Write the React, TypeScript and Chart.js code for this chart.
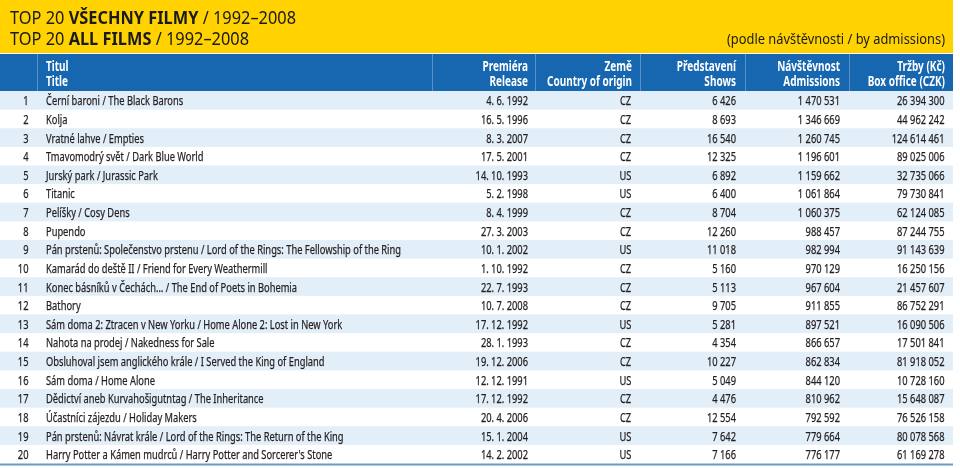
import React, { useEffect, useRef } from "react";
import { Chart, registerables } from "chart.js";

Chart.register(...registerables);

const ranks = ["1","2","3","4","5","6","7","8","9","10","11","12","13","14","15","16","17","18","19","20"];
const titles = [
  "Černí baroni / The Black Barons",
  "Kolja",
  "Vratné lahve / Empties",
  "Tmavomodrý svět / Dark Blue World",
  "Jurský park / Jurassic Park",
  "Titanic",
  "Pelíšky / Cosy Dens",
  "Pupendo",
  "Pán prstenů: Společenstvo prstenu / Lord of the Rings: The Fellowship of the Ring",
  "Kamarád do deště II / Friend for Every Weathermill",
  "Konec básníků v Čechách… / The End of Poets in Bohemia",
  "Bathory",
  "Sám doma 2: Ztracen v New Yorku / Home Alone 2: Lost in New York",
  "Nahota na prodej / Nakedness for Sale",
  "Obsluhoval jsem anglického krále / I Served the King of England",
  "Sám doma / Home Alone",
  "Dědictví aneb Kurvahošigutntag / The Inheritance",
  "Účastníci zájezdu / Holiday Makers",
  "Pán prstenů: Návrat krále / Lord of the Rings: The Return of the King",
  "Harry Potter a Kámen mudrců / Harry Potter and Sorcerer's Stone",
];
const releases = [
  "4. 6. 1992","16. 5. 1996","8. 3. 2007","17. 5. 2001","14. 10. 1993",
  "5. 2. 1998","8. 4. 1999","27. 3. 2003","10. 1. 2002","1. 10. 1992",
  "22. 7. 1993","10. 7. 2008","17. 12. 1992","28. 1. 1993","19. 12. 2006",
  "12. 12. 1991","17. 12. 1992","20. 4. 2006","15. 1. 2004","14. 2. 2002",
];
const countries = ["CZ","CZ","CZ","CZ","US","US","CZ","CZ","US","CZ","CZ","CZ","US","CZ","CZ","US","CZ","CZ","US","US"];
const shows = [6426, 8693, 16540, 12325, 6892, 6400, 8704, 12260, 11018, 5160, 5113, 9705, 5281, 4354, 10227, 5049, 4476, 12554, 7642, 7166];
const admissions = [1470531, 1346669, 1260745, 1196601, 1159662, 1061864, 1060375, 988457, 982994, 970129, 967604, 911855, 897521, 866657, 862834, 844120, 810962, 792592, 779664, 776177];
const boxOffice = [26394300, 44962242, 124614461, 89025006, 32735066, 79730841, 62124085, 87244755, 91143639, 16250156, 21457607, 86752291, 16090506, 17501841, 81918052, 10728160, 15648087, 76526158, 80078568, 61169278];

const headerTop = ["Titul", "Premiéra", "Země", "Představení", "Návštěvnost", "Tržby (Kč)"];
const headerBottom = ["Title", "Release", "Country of origin", "Shows", "Admissions", "Box office (CZK)"];
const titleLine1 = ["TOP 20 ", "VŠECHNY FILMY", " / 1992–2008"];
const titleLine2 = ["TOP 20 ", "ALL FILMS", " / 1992–2008"];
const subtitle = "(podle návštěvnosti / by admissions)";

const FONT = "'Noto Sans', 'Open Sans', sans-serif";
const YELLOW = "#FFD200";
const BLUE = "#1666B0";
const SEP = "#5A90CB";
const STRIPE = "#E2EEF8";
const TEXT = "#231F20";

const fmt = (n: number) => n.toString().replace(/\B(?=(\d{3})+(?!\d))/g, " ");

function drawText(ctx: CanvasRenderingContext2D, text: string, x: number, y: number, align: "left" | "right" | "center", font: string, sx: number, color: string, weight = 0) {
  ctx.save();
  ctx.font = font;
  ctx.fillStyle = color;
  ctx.textAlign = "left";
  ctx.textBaseline = "alphabetic";
  const w = ctx.measureText(text).width * sx;
  let left = x;
  if (align === "right") left = x - w;
  else if (align === "center") left = x - w / 2;
  ctx.translate(left, y);
  ctx.scale(sx, 1);
  ctx.fillText(text, 0, 0);
  if (weight > 0) {
    ctx.strokeStyle = color;
    ctx.lineWidth = weight;
    ctx.lineJoin = "round";
    ctx.strokeText(text, 0, 0);
  }
  ctx.restore();
  return w;
}

function drawSegments(ctx: CanvasRenderingContext2D, segs: string[], x: number, y: number, reg: string, bold: string, sx: number) {
  let cx = x;
  segs.forEach((s, i) => {
    cx += drawText(ctx, s, cx, y, "left", i === 1 ? bold : reg, sx, "#1a1a1a");
  });
}

const tablePlugin = {
  id: "tablePlugin",
  beforeDraw(chart: any) {
    const { ctx, chartArea } = chart;
    const yScale = chart.scales.y;
    const right = chartArea.right;
    ctx.save();
    ctx.fillStyle = "#ffffff";
    ctx.fillRect(0, 0, chart.width, chart.height);
    ctx.fillStyle = YELLOW;
    ctx.fillRect(0, 0, right, 53);
    ctx.fillStyle = BLUE;
    ctx.fillRect(0, 54, right, chartArea.top - 54);
    ctx.fillStyle = SEP;
    [37, 432, 535, 640, 745, 849].forEach((x) => ctx.fillRect(x, 54, 1, chartArea.top - 54));
    const h = (chartArea.bottom - chartArea.top) / ranks.length;
    ctx.fillStyle = STRIPE;
    ranks.forEach((_, i) => {
      if (i % 2 === 0) {
        const c = yScale.getPixelForValue(i);
        ctx.fillRect(0, c - h / 2, right, h);
      }
    });
    ctx.fillStyle = "#6A9AC8";
    ctx.fillRect(0, chartArea.bottom, right, 2);
    ctx.restore();
  },
  afterDatasetsDraw(chart: any) {
    const { ctx } = chart;
    const yScale = chart.scales.y;

    // title
    const tReg = `18px ${FONT}`;
    const tBold = `bold 18px ${FONT}`;
    let tw = 0;
    titleLine1.forEach((s, i) => {
      ctx.font = i === 1 ? tBold : tReg;
      tw += ctx.measureText(s).width;
    });
    const tsx = 286 / tw;
    drawSegments(ctx, titleLine1, 10, 24, tReg, tBold, tsx);
    drawSegments(ctx, titleLine2, 10, 45, tReg, tBold, tsx);
    const sFont = `15px ${FONT}`;
    ctx.font = sFont;
    const ssx = 218 / ctx.measureText(subtitle).width;
    drawText(ctx, subtitle, 945, 44, "right", sFont, ssx, "#1a1a1a");

    // header
    const hFont = `bold 14px ${FONT}`;
    ctx.font = hFont;
    const hsx = 85 / ctx.measureText("Country of origin").width;
    const hx = [46, 528, 632, 736, 840, 945];
    const hAlign: ("left" | "right")[] = ["left", "right", "right", "right", "right", "right"];
    headerTop.forEach((t, i) => drawText(ctx, t, hx[i], 70.5, hAlign[i], hFont, hsx, "#ffffff"));
    headerBottom.forEach((t, i) => drawText(ctx, t, hx[i], 85.5, hAlign[i], hFont, hsx, "#ffffff"));

    // rows
    const rFont = `12.8px ${FONT}`;
    ctx.font = rFont;
    const rsx = 355 / ctx.measureText(titles[8]).width;
    ranks.forEach((r, i) => {
      const y = yScale.getPixelForValue(i) + 5;
      drawText(ctx, r, 28.5, y, "right", rFont, rsx, TEXT, 0.25);
      drawText(ctx, titles[i], 46, y, "left", rFont, rsx, TEXT, 0.25);
      drawText(ctx, releases[i], 528, y, "right", rFont, rsx, TEXT, 0.25);
      drawText(ctx, countries[i], 625.5, y, "center", rFont, rsx, TEXT, 0.25);
      drawText(ctx, fmt(shows[i]), 736, y, "right", rFont, rsx, TEXT, 0.25);
      drawText(ctx, fmt(admissions[i]), 840, y, "right", rFont, rsx, TEXT, 0.25);
      drawText(ctx, fmt(boxOffice[i]), 944.5, y, "right", rFont, rsx, TEXT, 0.25);
    });
  },
};

export default function App() {
  const ref = useRef<HTMLCanvasElement>(null);
  useEffect(() => {
    document.body.style.margin = "0";
    const canvas = ref.current;
    if (!canvas) return;
    const chart = new Chart(canvas, {
      type: "bar",
      data: {
        labels: ranks,
        datasets: [
          {
            label: "Admissions",
            data: admissions,
            backgroundColor: "rgba(0,0,0,0)",
            borderWidth: 0,
          },
        ],
      },
      options: {
        responsive: false,
        animation: false,
        indexAxis: "y",
        events: [],
        layout: { padding: { top: 91, bottom: 4.5, left: 0, right: 7 } },
        plugins: { legend: { display: false }, tooltip: { enabled: false } },
        scales: {
          x: { display: false, min: 0 },
          y: { display: false },
        },
      },
      plugins: [tablePlugin],
    });
    return () => chart.destroy();
  }, []);
  return <canvas ref={ref} width={960} height={468} style={{ display: "block" }} />;
}
